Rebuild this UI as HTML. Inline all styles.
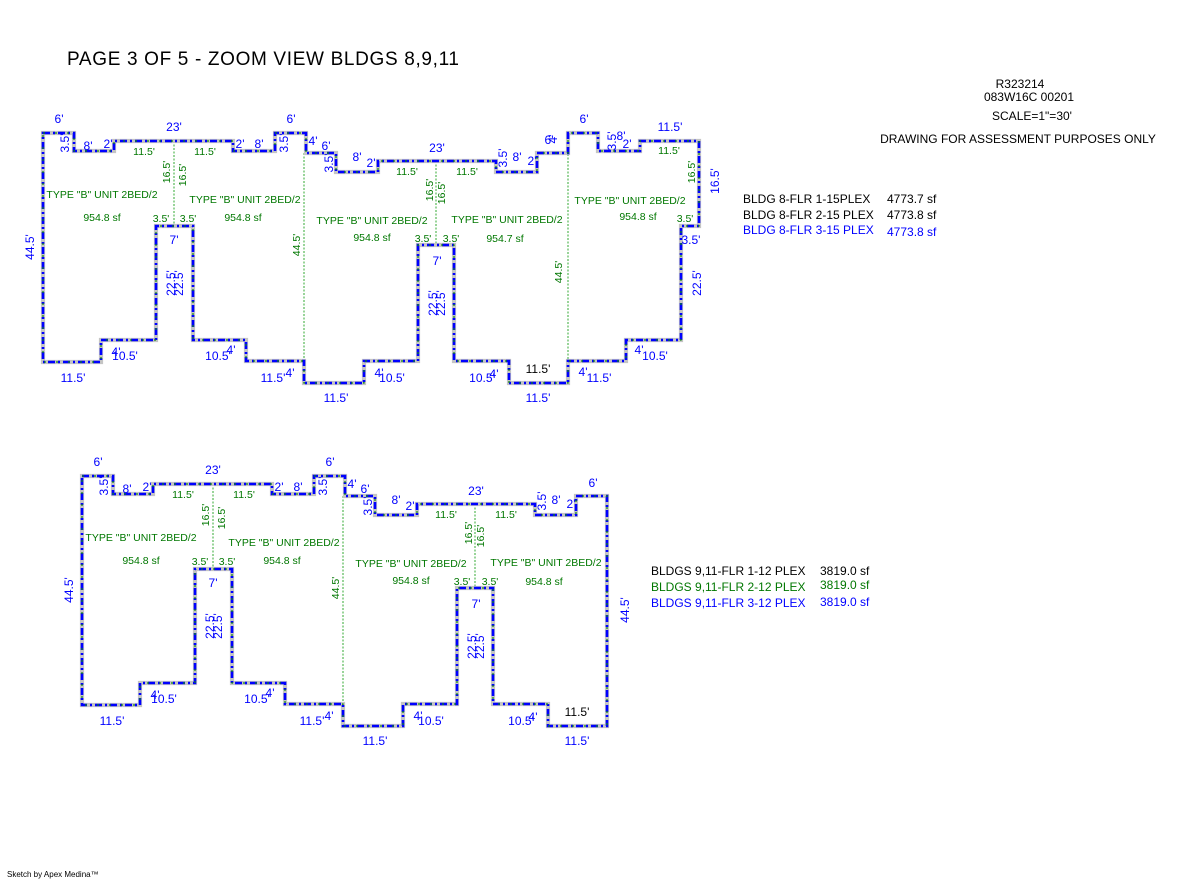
<!DOCTYPE html>
<html><head><meta charset="utf-8"><style>
html,body{margin:0;padding:0;background:#fff}
svg{display:block}
text{font-family:"Liberation Sans",sans-serif}
.b{fill:#0000ff;font-size:12px;text-anchor:middle}
.g{fill:#007700;font-size:10.5px;text-anchor:middle}
.k{fill:#000;font-size:12px;text-anchor:middle}
.o1{fill:none;stroke:#c4c4c4;stroke-width:4.2}
.o2{fill:none;stroke:#0000ff;stroke-width:2.6;stroke-dasharray:7 3 2 3}
.o3{fill:none;stroke:#118811;stroke-width:1.2;stroke-dasharray:2 10}
.d{stroke:#33aa33;stroke-width:1;stroke-dasharray:2 1.5}
</style></head><body>
<svg width="1200" height="880" viewBox="0 0 1200 880" xmlns="http://www.w3.org/2000/svg">
<text x="67" y="65" font-size="19" textLength="392" fill="#000">PAGE 3 OF 5 - ZOOM VIEW BLDGS 8,9,11</text>
<g font-size="12" fill="#000" text-anchor="middle">
<text x="1020" y="88">R323214</text>
<text x="1029" y="101">083W16C 00201</text>
<text x="1032" y="120">SCALE=1"=30'</text>
<text x="1018" y="143">DRAWING FOR ASSESSMENT PURPOSES ONLY</text>
</g>
<g font-size="12">
<text x="743" y="203" fill="#000">BLDG 8-FLR 1-15PLEX</text><text x="887" y="203" fill="#000">4773.7 sf</text>
<text x="743" y="219" fill="#000">BLDG 8-FLR 2-15 PLEX</text><text x="887" y="219" fill="#000">4773.8 sf</text>
<text x="743" y="234" fill="#0000ff">BLDG 8-FLR 3-15 PLEX</text><text x="887" y="236" fill="#0000ff">4773.8 sf</text>
<text x="651" y="575" fill="#000">BLDGS 9,11-FLR 1-12 PLEX</text><text x="820" y="575" fill="#000">3819.0 sf</text>
<text x="651" y="591" fill="#007700">BLDGS 9,11-FLR 2-12 PLEX</text><text x="820" y="589" fill="#007700">3819.0 sf</text>
<text x="651" y="607" fill="#0000ff">BLDGS 9,11-FLR 3-12 PLEX</text><text x="820" y="606" fill="#0000ff">3819.0 sf</text>
</g>
<text x="7" y="877" font-size="8" fill="#000">Sketch by Apex Medina™</text>

<g>
<line class="d" x1="174" y1="141" x2="174" y2="226"/>
<line class="d" x1="304" y1="153" x2="304" y2="361"/>
<line class="d" x1="436" y1="161" x2="436" y2="245"/>
<line class="d" x1="568" y1="133" x2="568" y2="361"/>
<path class="o1" d="M43,133 H74 V151 H114 V141 H233 V151 H275 V133 H306 V153 H336 V172 H378 V161 H496 V172 H537 V153 H568 V133 H598 V151 H640 V141 H699 V226 H681 V340 H626 V361 H568 V383 H509 V361 H454 V245 H418 V361 H364 V383 H304 V361 H246 V340 H193 V226 H156 V340 H101 V362 H43 Z"/>
<path class="o2" d="M43,133 H74 V151 H114 V141 H233 V151 H275 V133 H306 V153 H336 V172 H378 V161 H496 V172 H537 V153 H568 V133 H598 V151 H640 V141 H699 V226 H681 V340 H626 V361 H568 V383 H509 V361 H454 V245 H418 V361 H364 V383 H304 V361 H246 V340 H193 V226 H156 V340 H101 V362 H43 Z"/>
<path class="o3" d="M43,133 H74 V151 H114 V141 H233 V151 H275 V133 H306 V153 H336 V172 H378 V161 H496 V172 H537 V153 H568 V133 H598 V151 H640 V141 H699 V226 H681 V340 H626 V361 H568 V383 H509 V361 H454 V245 H418 V361 H364 V383 H304 V361 H246 V340 H193 V226 H156 V340 H101 V362 H43 Z"/>
<g>
<text class="b" x="59" y="123">6'</text>
<text class="b" transform="translate(69,143) rotate(-90)">3.5'</text>
<text class="b" x="88" y="150">8'</text>
<text class="b" x="108" y="148">2'</text>
<text class="b" x="174" y="131">23'</text>
<text class="b" x="240" y="148">2'</text>
<text class="b" x="259" y="148">8'</text>
<text class="b" x="291" y="123">6'</text>
<text class="b" transform="translate(288,143) rotate(-90)">3.5'</text>
<text class="b" x="313" y="145">4'</text>
<text class="b" x="326" y="150">6'</text>
<text class="b" transform="translate(333,163) rotate(-90)">3.5'</text>
<text class="b" x="357" y="161">8'</text>
<text class="b" x="371" y="167">2'</text>
<text class="b" x="437" y="152">23'</text>
<text class="b" transform="translate(507,158) rotate(-90)">3.5'</text>
<text class="b" x="517" y="161">8'</text>
<text class="b" x="532" y="165">2'</text>
<text class="b" x="174" y="244">7'</text>
<text class="b" transform="translate(175,283) rotate(-90)">22.5'</text>
<text class="b" transform="translate(183,283) rotate(-90)">22.5'</text>
<text class="b" x="437" y="265">7'</text>
<text class="b" transform="translate(437,303) rotate(-90)">22.5'</text>
<text class="b" transform="translate(445,303) rotate(-90)">22.5'</text>
<text class="b" transform="translate(34,247) rotate(-90)">44.5'</text>
<text class="b" x="73" y="382">11.5'</text>
<text class="b" x="125" y="360">10.5'</text>
<text class="b" x="116" y="356" font-size="9">4'</text>
<text class="b" x="218" y="360">10.5'</text>
<text class="b" x="231" y="354" font-size="9">4'</text>
<text class="b" x="273" y="382">11.5'</text>
<text class="b" x="290" y="377" font-size="9">4'</text>
<text class="b" x="336" y="402">11.5'</text>
<text class="b" x="392" y="382">10.5'</text>
<text class="b" x="379" y="377" font-size="9">4'</text>
<text class="b" x="482" y="382">10.5'</text>
<text class="b" x="494" y="378" font-size="9">4'</text>
<text class="k" x="538" y="373">11.5'</text>
<text class="b" x="538" y="402">11.5'</text>
<text class="g" x="144" y="155">11.5'</text>
<text class="g" x="205" y="155">11.5'</text>
<text class="g" transform="translate(170,172) rotate(-90)">16.5'</text>
<text class="g" transform="translate(186,175) rotate(-90)">16.5'</text>
<text class="g" x="102" y="198">TYPE "B" UNIT 2BED/2</text>
<text class="g" x="102" y="221">954.8 sf</text>
<text class="g" x="161" y="222">3.5'</text>
<text class="g" x="188" y="222">3.5'</text>
<text class="g" x="245" y="203">TYPE "B" UNIT 2BED/2</text>
<text class="g" x="243" y="221">954.8 sf</text>
<text class="g" transform="translate(300,245) rotate(-90)">44.5'</text>
<text class="g" x="407" y="175">11.5'</text>
<text class="g" x="467" y="175">11.5'</text>
<text class="g" transform="translate(433,190) rotate(-90)">16.5'</text>
<text class="g" transform="translate(445,193) rotate(-90)">16.5'</text>
<text class="g" x="372" y="224">TYPE "B" UNIT 2BED/2</text>
<text class="g" x="372" y="241">954.8 sf</text>
<text class="g" x="423" y="242">3.5'</text>
<text class="g" x="451" y="242">3.5'</text>
<text class="g" x="507" y="223">TYPE "B" UNIT 2BED/2</text>
<text class="g" x="505" y="242">954.7 sf</text>
</g>
<text class="b" x="549" y="144">6'</text>
<text class="b" x="553" y="143" transform="rotate(-90,553,139)">4'</text>
<text class="g" transform="translate(562,272) rotate(-90)">44.5'</text>
<text class="b" x="584" y="123">6'</text>
<text class="b" transform="translate(616,141) rotate(-90)" font-size="10">3.5'</text>
<text class="b" x="621" y="140" font-size="11">8'</text>
<text class="b" x="627" y="148" font-size="10">2'</text>
<text class="b" x="670" y="131">11.5'</text>
<text class="g" x="669" y="154">11.5'</text>
<text class="g" transform="translate(695,172) rotate(-90)">16.5'</text>
<text class="b" transform="translate(719,181) rotate(-90)">16.5'</text>
<text class="g" x="630" y="204">TYPE "B" UNIT 2BED/2</text>
<text class="g" x="638" y="220">954.8 sf</text>
<text class="g" x="685" y="222">3.5'</text>
<text class="b" x="691" y="244">3.5'</text>
<text class="b" transform="translate(701,283) rotate(-90)">22.5'</text>
<text class="b" x="655" y="360">10.5'</text>
<text class="b" x="639" y="354" font-size="9">4'</text>
<text class="b" x="599" y="382">11.5'</text>
<text class="b" x="583" y="376" font-size="9">4'</text>
</g>

<g transform="translate(39,343)">
<line class="d" x1="174" y1="141" x2="174" y2="226"/>
<line class="d" x1="304" y1="153" x2="304" y2="361"/>
<line class="d" x1="436" y1="161" x2="436" y2="245"/>
<path class="o1" d="M43,133 H74 V151 H114 V141 H233 V151 H275 V133 H306 V153 H336 V172 H378 V161 H496 V172 H537 V153 H568 V383 H509 V361 H454 V245 H418 V361 H364 V383 H304 V361 H246 V340 H193 V226 H156 V340 H101 V362 H43 Z"/>
<path class="o2" d="M43,133 H74 V151 H114 V141 H233 V151 H275 V133 H306 V153 H336 V172 H378 V161 H496 V172 H537 V153 H568 V383 H509 V361 H454 V245 H418 V361 H364 V383 H304 V361 H246 V340 H193 V226 H156 V340 H101 V362 H43 Z"/>
<path class="o3" d="M43,133 H74 V151 H114 V141 H233 V151 H275 V133 H306 V153 H336 V172 H378 V161 H496 V172 H537 V153 H568 V383 H509 V361 H454 V245 H418 V361 H364 V383 H304 V361 H246 V340 H193 V226 H156 V340 H101 V362 H43 Z"/>
<text class="b" x="59" y="123">6'</text>
<text class="b" transform="translate(69,143) rotate(-90)">3.5'</text>
<text class="b" x="88" y="150">8'</text>
<text class="b" x="108" y="148">2'</text>
<text class="b" x="174" y="131">23'</text>
<text class="b" x="240" y="148">2'</text>
<text class="b" x="259" y="148">8'</text>
<text class="b" x="291" y="123">6'</text>
<text class="b" transform="translate(288,143) rotate(-90)">3.5'</text>
<text class="b" x="313" y="145">4'</text>
<text class="b" x="326" y="150">6'</text>
<text class="b" transform="translate(333,163) rotate(-90)">3.5'</text>
<text class="b" x="357" y="161">8'</text>
<text class="b" x="371" y="167">2'</text>
<text class="b" x="437" y="152">23'</text>
<text class="b" transform="translate(507,158) rotate(-90)">3.5'</text>
<text class="b" x="517" y="161">8'</text>
<text class="b" x="532" y="165">2'</text>
<text class="b" x="554" y="144">6'</text>
<text class="b" transform="translate(590,267) rotate(-90)">44.5'</text>
<text class="b" x="174" y="244">7'</text>
<text class="b" transform="translate(175,283) rotate(-90)">22.5'</text>
<text class="b" transform="translate(183,283) rotate(-90)">22.5'</text>
<text class="b" x="437" y="265">7'</text>
<text class="b" transform="translate(437,303) rotate(-90)">22.5'</text>
<text class="b" transform="translate(445,303) rotate(-90)">22.5'</text>
<text class="b" transform="translate(34,247) rotate(-90)">44.5'</text>
<text class="b" x="73" y="382">11.5'</text>
<text class="b" x="125" y="360">10.5'</text>
<text class="b" x="116" y="356" font-size="9">4'</text>
<text class="b" x="218" y="360">10.5'</text>
<text class="b" x="231" y="354" font-size="9">4'</text>
<text class="b" x="273" y="382">11.5'</text>
<text class="b" x="290" y="377" font-size="9">4'</text>
<text class="b" x="336" y="402">11.5'</text>
<text class="b" x="392" y="382">10.5'</text>
<text class="b" x="379" y="377" font-size="9">4'</text>
<text class="b" x="482" y="382">10.5'</text>
<text class="b" x="494" y="378" font-size="9">4'</text>
<text class="k" x="538" y="373">11.5'</text>
<text class="b" x="538" y="402">11.5'</text>
<text class="g" x="144" y="155">11.5'</text>
<text class="g" x="205" y="155">11.5'</text>
<text class="g" transform="translate(170,172) rotate(-90)">16.5'</text>
<text class="g" transform="translate(186,175) rotate(-90)">16.5'</text>
<text class="g" x="102" y="198">TYPE "B" UNIT 2BED/2</text>
<text class="g" x="102" y="221">954.8 sf</text>
<text class="g" x="161" y="222">3.5'</text>
<text class="g" x="188" y="222">3.5'</text>
<text class="g" x="245" y="203">TYPE "B" UNIT 2BED/2</text>
<text class="g" x="243" y="221">954.8 sf</text>
<text class="g" transform="translate(300,245) rotate(-90)">44.5'</text>
<text class="g" x="407" y="175">11.5'</text>
<text class="g" x="467" y="175">11.5'</text>
<text class="g" transform="translate(433,190) rotate(-90)">16.5'</text>
<text class="g" transform="translate(445,193) rotate(-90)">16.5'</text>
<text class="g" x="372" y="224">TYPE "B" UNIT 2BED/2</text>
<text class="g" x="372" y="241">954.8 sf</text>
<text class="g" x="423" y="242">3.5'</text>
<text class="g" x="451" y="242">3.5'</text>
<text class="g" x="507" y="223">TYPE "B" UNIT 2BED/2</text>
<text class="g" x="505" y="242">954.8 sf</text>
</g>
</svg>
</body></html>
